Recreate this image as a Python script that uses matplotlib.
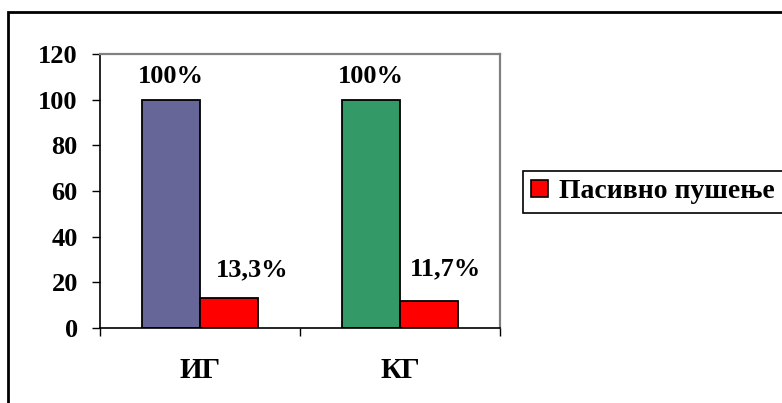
import matplotlib.pyplot as plt
from matplotlib.patches import Rectangle, Patch

# Groups and values
groups = ['ИГ', 'КГ']
total = [100, 100]
passive = [13.3, 11.7]
total_labels = ['100%', '100%']
passive_labels = ['13,3%', '11,7%']
legend_label = 'Пасивно пушење'

group_colors = ['#666699', '#339966']
red = '#FF0000'

plt.rcParams['font.family'] = ['Liberation Serif', 'DejaVu Serif']
plt.rcParams['font.weight'] = 'bold'

fig = plt.figure(figsize=(7.82, 4.03), dpi=100)
ax = fig.add_axes([100 / 782, 75 / 403, 400 / 782, 274 / 403])

w = 0.29
x = list(range(len(groups)))
ax.bar([i - w / 2 for i in x], total, width=w, color=group_colors,
       edgecolor='black', linewidth=1.3)
ax.bar([i + w / 2 for i in x], passive, width=w, color=red,
       edgecolor='black', linewidth=1.3)

# value labels
for i in x:
    ax.annotate(total_labels[i], (i - w / 2, total[i]), xytext=(0, 12),
                textcoords='offset points', ha='center', va='baseline',
                fontsize=19, fontweight='bold')
shift = [(16.5, 15), (12, 19)]
for i in x:
    ax.annotate(passive_labels[i], (i + w / 2, passive[i]), xytext=shift[i],
                textcoords='offset points', ha='center', va='baseline',
                fontsize=19, fontweight='bold')

ax.set_xlim(-0.5, 1.5)
ax.set_ylim(0, 120)
ax.set_yticks(range(0, 121, 20))
ax.tick_params(axis='y', direction='out', length=6, width=1, pad=10, labelsize=19)

# category boundaries as ticks, names centred between them
ax.set_xticks([-0.5, 0.5, 1.5])
ax.set_xticklabels([])
ax.set_xticks(x, minor=True)
ax.set_xticklabels(groups, minor=True, fontsize=21, fontweight='bold')
ax.tick_params(axis='x', which='major', direction='out', length=6, width=1)
ax.tick_params(axis='x', which='minor', length=0, pad=21)

for s in ['left', 'bottom']:
    ax.spines[s].set_color('black')
    ax.spines[s].set_linewidth(1.2)
for s in ['top', 'right']:
    ax.spines[s].set_color('#808080')
    ax.spines[s].set_linewidth(1.6)

leg = fig.legend(handles=[Patch(facecolor=red, edgecolor='black', linewidth=1.2,
                                label=legend_label)],
                 loc='upper left', bbox_to_anchor=(523 / 782, 1 - 171 / 403),
                 borderaxespad=0, fancybox=False, framealpha=1,
                 edgecolor='black', prop={'size': 20, 'weight': 'bold'},
                 handlelength=0.6, handleheight=0.6, handletextpad=0.4,
                 borderpad=0.3)
leg.get_frame().set_linewidth(1.2)

# outer chart border
fig.patches.append(Rectangle((8 / 782, -0.1), 2, 1.1 - 12 / 403,
                             transform=fig.transFigure, fill=False,
                             edgecolor='black', linewidth=2))

fig.savefig('out.png', dpi=100)
